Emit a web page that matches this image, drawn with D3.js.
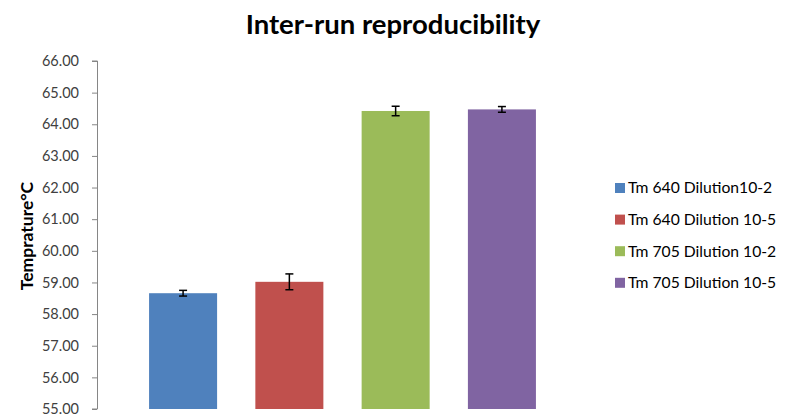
<!DOCTYPE html>
<html><head><meta charset="utf-8">
<script src="https://cdn.jsdelivr.net/npm/d3@7"></script>
<style>body{margin:0;background:#fff;}svg{display:block;}</style>
</head><body>
<script>
const series = ["Tm 640 Dilution10-2","Tm 640 Dilution 10-5","Tm 705 Dilution 10-2","Tm 705 Dilution 10-5"];
const values = [58.66, 59.02, 64.42, 64.47];
const errors = [0.09, 0.25, 0.15, 0.09];
const colors = ["#4F81BD","#C0504D","#9BBB59","#8064A2"];
const yTicks = [55,56,57,58,59,60,61,62,63,64,65,66];

const W=791,H=415;
const svg=d3.select("body").append("svg").attr("width",W).attr("height",H);
const font="Lato, 'Open Sans', sans-serif";

const y=d3.scaleLinear().domain([55,66]).range([409,61]);
const x=d3.scaleBand().domain(series).range([97,588]).paddingInner(0.36).paddingOuter(0.49);

svg.append("text").attr("x",393).attr("y",34).attr("text-anchor","middle")
 .attr("font-family",font).attr("font-weight","bold").attr("font-size",27.5).attr("fill","#000")
 .text("Inter-run reproducibility");

const ax=svg.append("g").attr("transform","translate(97,0)")
 .call(d3.axisLeft(y).tickValues(yTicks).tickFormat(d3.format(".2f")).tickSize(5).tickPadding(13));
ax.select(".domain").attr("stroke","#868686").attr("d","M-5,"+y(66)+"H0.5V"+y(55)+"H-5");
ax.selectAll(".tick line").attr("stroke","#868686");
ax.selectAll(".tick text").attr("font-family",font).attr("font-size",14.5).attr("fill","#404040");

svg.append("text").attr("transform","translate(33,236) rotate(-90)").attr("text-anchor","middle")
 .attr("font-family",font).attr("font-weight","bold").attr("font-size",17.5).attr("fill","#000")
 .text("Temprature°C");

svg.selectAll("rect.bar").data(series).enter().append("rect").attr("class","bar")
 .attr("x",d=>x(d)).attr("width",x.bandwidth())
 .attr("y",(d,i)=>y(values[i])).attr("height",(d,i)=>y(55)-y(values[i]))
 .attr("fill",(d,i)=>colors[i]);

const eg=svg.append("g").attr("stroke","#000").attr("stroke-width",1.5);
series.forEach((d,i)=>{
  const cx=x(d)+x.bandwidth()/2, t=y(values[i]+errors[i]), b=y(values[i]-errors[i]);
  eg.append("line").attr("x1",cx).attr("x2",cx).attr("y1",t).attr("y2",b);
  eg.append("line").attr("x1",cx-4).attr("x2",cx+4).attr("y1",t).attr("y2",t);
  eg.append("line").attr("x1",cx-4).attr("x2",cx+4).attr("y1",b).attr("y2",b);
});

const lg=svg.append("g");
series.forEach((d,i)=>{
  const yy=188+i*31.6;
  lg.append("rect").attr("x",615).attr("y",yy-5).attr("width",10).attr("height",10).attr("fill",colors[i]);
  lg.append("text").attr("x",628).attr("y",yy).attr("dy","0.35em").attr("font-family",font)
   .attr("font-size",15.7).attr("fill","#000").text(d);
});
</script>
</body></html>
